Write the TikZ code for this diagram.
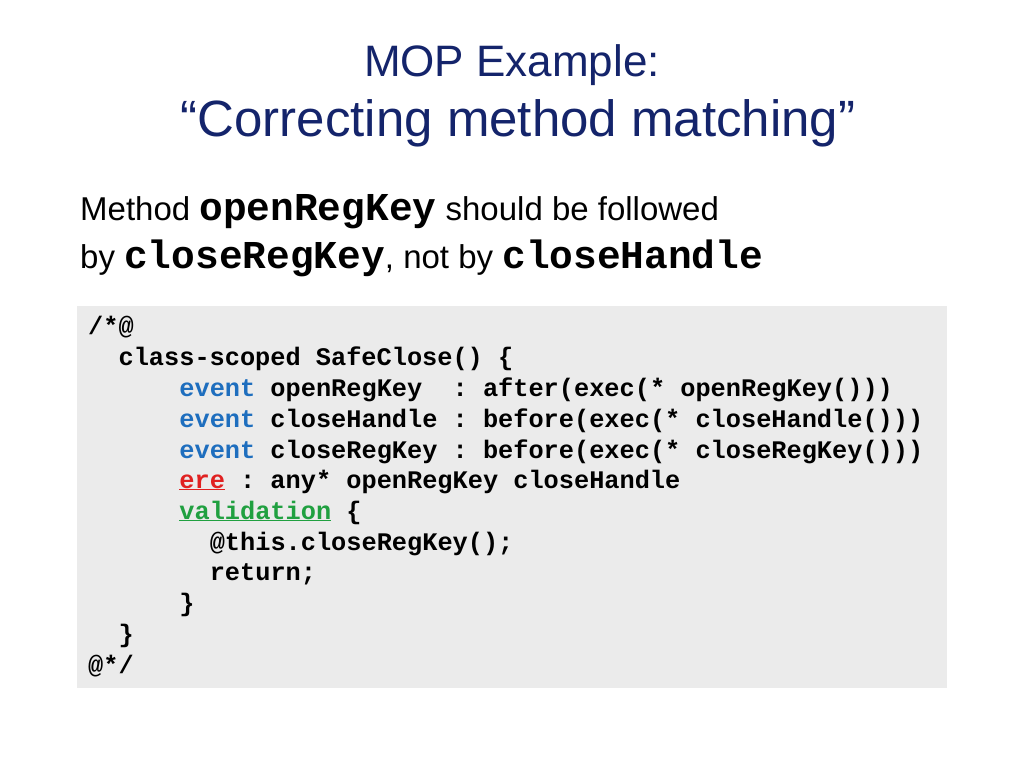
\documentclass[tikz,border=0pt]{standalone}
\usepackage{fontspec}
\setmainfont{Liberation Sans}
\setmonofont{Liberation Mono}
\definecolor{navy}{HTML}{14246B}
\definecolor{kwblue}{HTML}{1E6EBE}
\definecolor{kwred}{HTML}{E02020}
\definecolor{kwgreen}{HTML}{20A040}
\definecolor{codebg}{HTML}{EBEBEB}
\begin{document}
\begin{tikzpicture}[x=1pt,y=-1pt,
  title/.style={text=navy, anchor=base},
  body/.style={font=\fontsize{33}{38}\selectfont, anchor=base west, inner sep=0},
  bm/.style={},
  code/.style={font=\fontsize{25.3}{30}\selectfont\ttfamily\bfseries, anchor=base west, inner sep=0}]
\useasboundingbox (0,0) rectangle (1024,768);
\fill[white] (0,0) rectangle (1024,768);
\node[title,font=\fontsize{44}{50}\selectfont] (t1) at (512,76) {MOP Example:};
\node[title,font=\fontsize{51}{56}\selectfont] (t2) at (518,136) {“Correcting method matching”};
\newcommand\bmono[1]{{\fontsize{39.5}{40}\selectfont\ttfamily\bfseries #1}}
\node[body] (b1) at (80,220) {Method \bmono{openRegKey} should be followed};
\node[body] (b2) at (80,268) {by \bmono{closeRegKey}, not by \bmono{closeHandle}};
\fill[codebg] (77,306) rectangle (947,688);
\def\cw{15.2}
\node[code] (c1) at (88,334) {/*@};
\node[code] (c2) at (88+2*\cw,365) {class-scoped SafeClose() \{};
\node[code] (c3) at (88+6*\cw,396) {\textcolor{kwblue}{event} openRegKey\ \ : after(exec(* openRegKey()))};
\node[code] (c4) at (88+6*\cw,427) {\textcolor{kwblue}{event} closeHandle : before(exec(* closeHandle()))};
\node[code] (c5) at (88+6*\cw,458) {\textcolor{kwblue}{event} closeRegKey : before(exec(* closeRegKey()))};
\node[code] (c6) at (88+6*\cw,488) {\textcolor{kwred}{\underline{ere}} : any* openRegKey closeHandle};
\node[code] (c7) at (88+6*\cw,519) {\textcolor{kwgreen}{\underline{validation}} \{};
\node[code] (c8) at (88+8*\cw,550) {@this.closeRegKey();};
\node[code] (c9) at (88+8*\cw,580) {return;};
\node[code] (c10) at (88+6*\cw,611) {\}};
\node[code] (c11) at (88+2*\cw,642) {\}};
\node[code] (c12) at (88,673) {@*/};
\end{tikzpicture}
\end{document}
